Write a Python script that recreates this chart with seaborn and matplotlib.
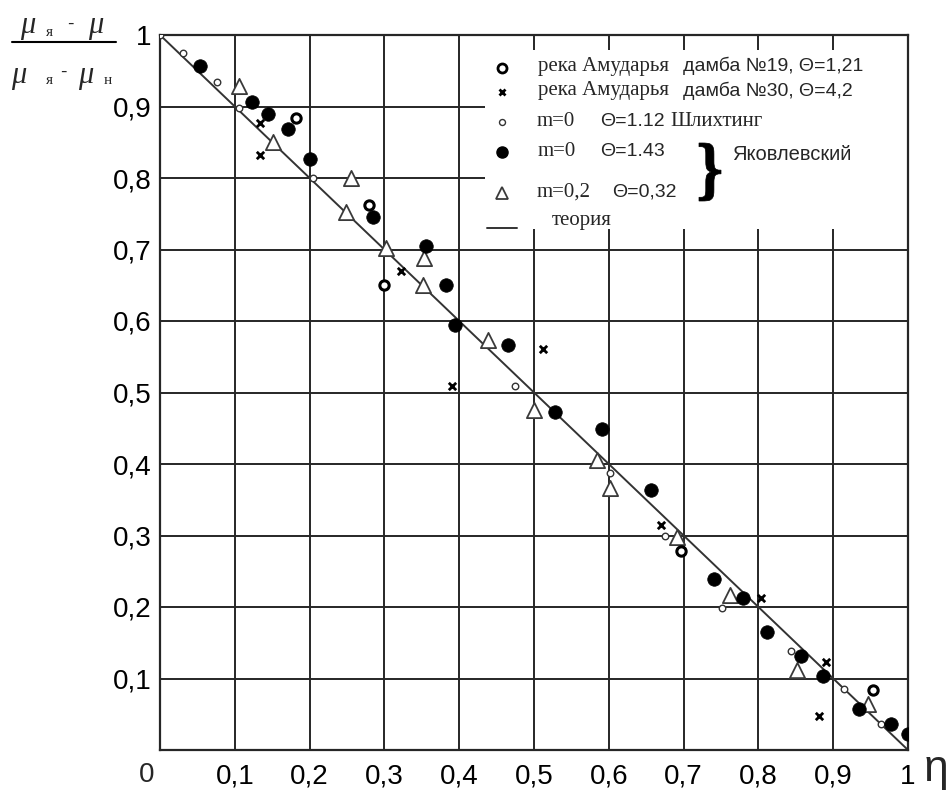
import numpy as np
import pandas as pd
import seaborn as sns
import matplotlib
matplotlib.use("Agg")
import matplotlib.pyplot as plt
from matplotlib.patches import Rectangle, PathPatch
from matplotlib.textpath import TextPath
from matplotlib.font_manager import FontProperties
from matplotlib.transforms import Affine2D
from matplotlib.lines import Line2D

# ---------------- data ----------------
amu19_x = [0.182, 0.280, 0.299, 0.697, 0.953]
amu19_y = [0.884, 0.762, 0.650, 0.279, 0.084]

amu30_x = [0.134, 0.134, 0.322, 0.391, 0.512, 0.670, 0.804, 0.891, 0.881]
amu30_y = [0.877, 0.832, 0.670, 0.509, 0.561, 0.314, 0.212, 0.123, 0.048]

schl_x = [0.000, 0.031, 0.076, 0.106, 0.204, 0.474, 0.601, 0.675, 0.751, 0.844, 0.915, 0.964]
schl_y = [1.000, 0.975, 0.934, 0.898, 0.800, 0.509, 0.388, 0.300, 0.199, 0.139, 0.086, 0.036]

yak0_x = [0.053, 0.123, 0.144, 0.171, 0.201, 0.285, 0.355, 0.382, 0.394, 0.465, 0.528,
          0.591, 0.657, 0.741, 0.780, 0.812, 0.857, 0.886, 0.935, 0.977, 1.000]
yak0_y = [0.956, 0.906, 0.890, 0.869, 0.827, 0.745, 0.705, 0.650, 0.594, 0.566, 0.473,
          0.449, 0.363, 0.239, 0.212, 0.165, 0.132, 0.103, 0.057, 0.036, 0.023]

yak2_x = [0.106, 0.151, 0.255, 0.248, 0.302, 0.353, 0.351, 0.439, 0.500, 0.584, 0.602,
          0.691, 0.762, 0.852, 0.947]
yak2_y = [0.928, 0.851, 0.800, 0.752, 0.702, 0.688, 0.650, 0.573, 0.476, 0.406, 0.367,
          0.298, 0.217, 0.112, 0.065]

theory_x = [0.0, 1.0]
theory_y = [1.0, 0.0]

tick_vals = [0.1, 0.2, 0.3, 0.4, 0.5, 0.6, 0.7, 0.8, 0.9, 1.0]
tick_labels = ["0,1", "0,2", "0,3", "0,4", "0,5", "0,6", "0,7", "0,8", "0,9", "1"]

legend_labels = ["река Амударья ", "дамба №19, Θ=1,21", "дамба №30, Θ=4,2",
                 "m=0", "Θ=1.12", "Шлихтинг", "Θ=1.43", "m=0,2", "Θ=0,32",
                 "теория", "Яковлевский"]

# ---------------- figure ----------------
W, H = 952, 791
sns.set_style("white")
plt.rcParams['font.family'] = ['Liberation Sans', 'DejaVu Sans']
fig = plt.figure(figsize=(W / 100, H / 100), dpi=100)
L, R, T, B = 160, 908, 35, 750
ax = fig.add_axes([L / W, (H - B) / H, (R - L) / W, (B - T) / H])

GRID = "#262626"
ax.set_xlim(0, 1)
ax.set_ylim(0, 1)
ax.set_xticks(tick_vals)
ax.set_yticks(tick_vals)
ax.set_xticklabels(tick_labels)
ax.set_yticklabels(tick_labels)
ax.tick_params(length=0, labelsize=20, colors="black")
ax.tick_params(axis="x", pad=10)
ax.tick_params(axis="y", pad=6)
ax.set_axisbelow(True)
ax.grid(True, color=GRID, linewidth=1.4)
for s in ax.spines.values():
    s.set_visible(True)
    s.set_color(GRID)
    s.set_linewidth(1.6)

# theory line
sns.lineplot(x=theory_x, y=theory_y, ax=ax, color="#333333", linewidth=1.4, zorder=2)

# data series
sns.scatterplot(x=schl_x, y=schl_y, ax=ax, marker="o", s=22, facecolor="white",
                edgecolor="#333333", linewidth=1.0, zorder=4)
sns.scatterplot(x=yak2_x, y=yak2_y, ax=ax, marker="^", s=120, facecolor="white",
                edgecolor="#3a3a3a", linewidth=1.3, zorder=3)
sns.scatterplot(x=yak0_x, y=yak0_y, ax=ax, marker="o", s=95, color="black",
                edgecolor="black", linewidth=0.5, zorder=5)
sns.scatterplot(x=amu19_x, y=amu19_y, ax=ax, marker="o", s=45, facecolor="white",
                edgecolor="black", linewidth=2.2, zorder=5)
sns.scatterplot(x=amu30_x, y=amu30_y, ax=ax, marker="x", s=28, color="black",
                linewidth=2.0, zorder=5)

# ---------------- legend (manual) ----------------
def ax_x(px):
    return (px - L) / (R - L)

def ax_y(py):
    return (B - py) / (B - T)

ax.add_patch(Rectangle((ax_x(485), ax_y(229)), 1 - ax_x(485), ax_y(50) - ax_y(229),
                       transform=ax.transAxes, facecolor="white", edgecolor="none",
                       zorder=1))

SERIF = ['Liberation Serif', 'DejaVu Serif']
SANS = ['Liberation Sans', 'DejaVu Sans']
FS = 15
FSS = 14
mx = ax_x(502)
tr = ax.transAxes
ax.plot([mx], [ax_y(68)], transform=tr, marker="o", ms=6.5, mfc="white", mec="black", mew=2.0, zorder=6)
ax.plot([mx], [ax_y(92)], transform=tr, marker="x", ms=5, color="black", mew=2.0, zorder=6)
ax.plot([mx], [ax_y(122)], transform=tr, marker="o", ms=4.3, mfc="white", mec="#333333", mew=1.0, zorder=6)
ax.plot([mx], [ax_y(152)], transform=tr, marker="o", ms=8, color="black", zorder=6)
ax.plot([mx], [ax_y(193)], transform=tr, marker="^", ms=8, mfc="white", mec="#3a3a3a", mew=1.3, zorder=6)
ax.plot([ax_x(487), ax_x(517)], [ax_y(228), ax_y(228)], transform=tr, color="#333333", lw=1.4, zorder=6)

def txt(px, py, s, fam, size=FS, **kw):
    ax.text(ax_x(px), ax_y(py), s, transform=tr, family=fam, fontsize=size,
            ha="left", va="center", zorder=7, **kw)

txt(538, 66, legend_labels[0], SERIF)
txt(683, 66, legend_labels[1], SANS, FSS)
txt(538, 91, legend_labels[0], SERIF)
txt(683, 91, legend_labels[2], SANS, FSS)
txt(537, 121, legend_labels[3], SERIF)
txt(600, 121, legend_labels[4], SANS, FSS)
txt(670, 121, legend_labels[5], SERIF)
txt(538, 151, legend_labels[3], SERIF)
txt(600, 151, legend_labels[6], SANS, FSS)
txt(537, 192, legend_labels[7], SERIF)
txt(612, 192, legend_labels[8], SANS, FSS)
txt(552, 221, legend_labels[9], SERIF)
txt(732, 155, legend_labels[10], SANS, 14.5)

# brace scaled into a box
fp = FontProperties(family="DejaVu Serif", weight="bold")
tp = TextPath((0, 0), "}", prop=fp, size=10)
ext = tp.get_extents()
bx0, bx1, by0, by1 = ax_x(699), ax_x(721), ax_y(201), ax_y(143)
aff = (Affine2D().translate(-ext.x0, -ext.y0)
       .scale((bx1 - bx0) / ext.width, (by1 - by0) / ext.height)
       .translate(bx0, by0))
ax.add_patch(PathPatch(aff.transform_path(tp), transform=tr, facecolor="black",
                       edgecolor="black", lw=0.5, zorder=7))

# ---------------- axis label pieces ----------------
def ftxt(px, py, s, fam, size, **kw):
    fig.text(px / W, (H - py) / H, s, family=fam, fontsize=size, ha="center", va="center", **kw)

MU = dict(style="italic")
ftxt(28, 25, "μ", SERIF, 22, **MU)
ftxt(49, 33, "я", SERIF, 11)
ftxt(70, 24, "-", SANS, 14)
ftxt(96, 25, "μ", SERIF, 22, **MU)
fig.add_artist(Line2D([12 / W, 116 / W], [(H - 42) / H, (H - 42) / H], color="black", lw=1.5))
ftxt(19, 75, "μ", SERIF, 22, **MU)
ftxt(49, 80, "я", SERIF, 11)
ftxt(63, 72, "-", SANS, 14)
ftxt(86, 75, "μ", SERIF, 22, **MU)
ftxt(108, 80, "н", SERIF, 11)

ftxt(147, 775, "0", SANS, 20)
ftxt(936, 770, "η", SANS, 32)

fig.savefig("out.png", dpi=100)
